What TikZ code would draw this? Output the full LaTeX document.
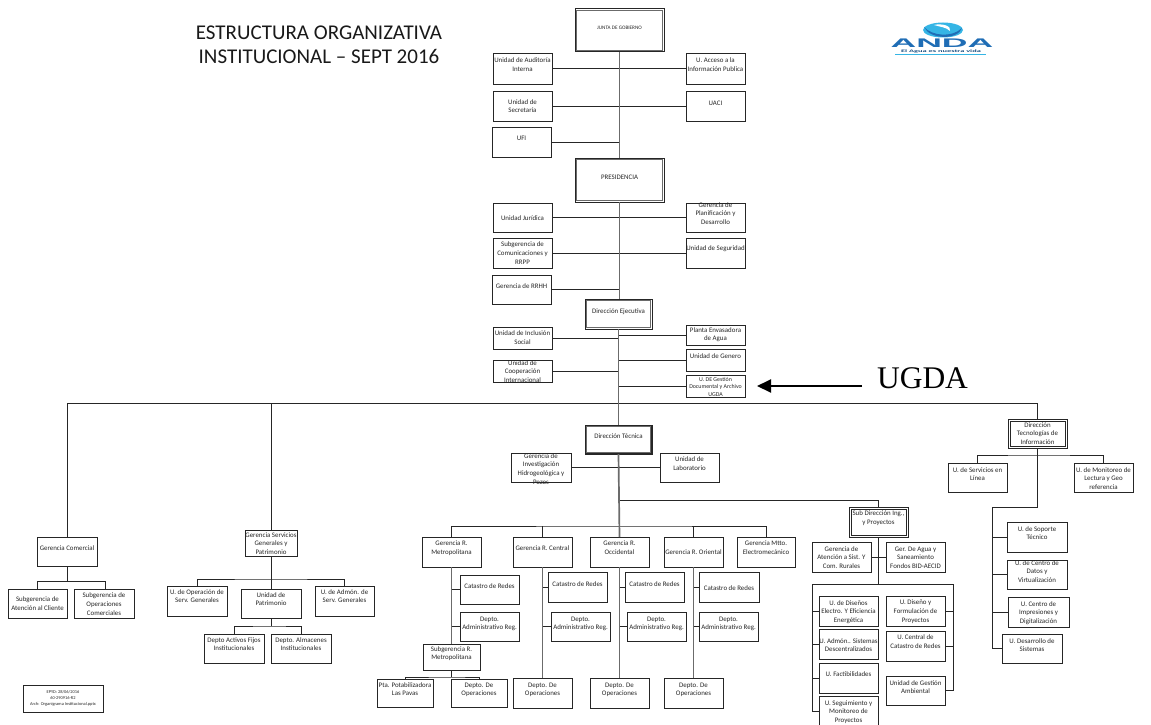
\documentclass[tikz,border=0pt]{standalone}
\usepackage{fontspec}
\setmainfont{Carlito}
\newfontfamily\serifface{Liberation Serif}
\newfontfamily\logoface{Liberation Sans}
\usetikzlibrary{arrows.meta}
\definecolor{txtc}{gray}{0.15}
\definecolor{linec}{gray}{0.15}
\definecolor{trunkc}{gray}{0.42}
\definecolor{logoa}{HTML}{1F6DB5}
\definecolor{logob}{HTML}{35B5E5}
\tikzset{
  bx/.style={draw=linec,line width=1pt,fill=white,inner sep=0pt,outer sep=0pt,text=txtc},
  conn/.style={draw=linec,line width=1pt},
  trunk/.style={draw=trunkc,line width=1.7pt},
  subtrunk/.style={draw=trunkc,line width=1.3pt},
  innerframe/.style={draw=trunkc,line width=1.2pt},
  innerdark/.style={draw=linec,line width=0.8pt},
}
% \bx{name}{x1}{y1}{x2}{y2}{y of first text line}{text}
\newcommand{\boxtext}[7]{%
  \parbox[c][\dimexpr #5pt-#3pt\relax][t]{\dimexpr #4pt-#2pt\relax}{%
    \centering\leftskip=-10pt plus 1fil\rightskip=-10pt plus 1fil
    \fontsize{6.9}{8.6}\selectfont
    \vspace*{\dimexpr #6pt-#3pt-3.7pt\relax}\strut #7\par}}
\newcommand{\bx}[7]{%
  \node[bx] (#1) at ({(#2+#4)/2},{(#3+#5)/2}) {\boxtext{#1}{#2}{#3}{#4}{#5}{#6}{#7}};}
\begin{document}
\begin{tikzpicture}[x=1pt,y=-1pt]
\useasboundingbox (0,0) rectangle (1151,725);
% title
\node[text=black!90,align=center,font=\fontsize{21}{24}\selectfont] (title) at (319,44.7) {ESTRUCTURA ORGANIZATIVA\\INSTITUCIONAL – SEPT 2016};
% logo
\fill[logob] (943,30) ellipse (20 and 7.5);
\fill[logoa] (924,27) .. controls (932,36) and (952,38) .. (962,28) .. controls (958,40) and (930,40) .. (924,27);
\fill[white] (934,25) .. controls (942,23) and (952,26) .. (950,31) .. controls (946,27) and (940,27) .. (934,25);
\node[text=logoa,inner sep=0pt,font=\logoface\bfseries\fontsize{12.5}{12.5}\selectfont,xscale=2.85,transform shape] (anda) at (942,43.5) {ANDA};
\node[text=logoa!70!black,inner sep=0pt,font=\fontsize{3.8}{4}\selectfont\bfseries,xscale=2.2,transform shape] (lema) at (941,51.6) {El Agua es nuestra vida};
\draw[logob,line width=0.6pt] (895,54) -- (986,54);
% governance column
\bx{junta}{575}{9}{664}{52}{27}{\fontsize{5.2}{6}\selectfont JUNTA DE GOBIERNO}
\bx{aud}{493}{54}{552}{84}{60.5}{Unidad de Auditoría\\Interna}
\bx{acc}{686}{54}{745}{84}{60.5}{U. Acceso a la\\Información Publica}
\bx{sec}{493}{91}{552}{121}{102}{Unidad de\\Secretaría}
\bx{uaci}{686}{91}{745}{121}{103}{UACI}
\bx{ufi}{492}{127}{551}{157}{138}{UFI}
\bx{pres}{575}{158}{664}{202}{177}{PRESIDENCIA}
\bx{jur}{493}{203}{552}{232}{218}{Unidad Jurídica}
\bx{plan}{686}{203}{745}{232}{205}{Gerencia de\\Planificación y\\Desarrollo}
\bx{com}{493}{238}{552}{268}{244.5}{Subgerencia de\\Comunicaciones y\\RRPP}
\bx{seg}{686}{238}{745}{268}{248.5}{Unidad de Seguridad}
\bx{rrhh}{492}{275}{551}{304}{286}{Gerencia de RRHH}
\bx{dej}{585}{299}{652}{329}{311}{Dirección Ejecutiva}
\bx{inc}{493}{327}{552}{349}{333.5}{Unidad de Inclusión\\Social}
\bx{pla}{686}{325}{745}{345}{330}{Planta Envasadora\\de Agua}
\bx{gen}{686}{349}{745}{371}{356}{Unidad de Genero}
\bx{coo}{493}{360}{552}{382}{363}{Unidad de\\Cooperación\\Internacional}
\bx{ugd}{686}{375}{745}{397}{379}{\fontsize{5.9}{7.5}\selectfont U. DE Gestión\\Documental y Archivo\\UGDA}
% arrow and its label
\node[inner sep=0pt,text=black,font=\serifface\fontsize{31.5}{34}\selectfont] (ugdal) at (922.5,378.5) {UGDA};
\coordinate (arrs) at (862,386);
\coordinate (arre) at (757,386);
\draw[line width=2pt,-{Triangle[length=14pt,width=13pt]}] (arrs) -- (arre);
% technical column
\bx{dte}{585}{425}{652}{454}{436}{Dirección Técnica}
\bx{inv}{511}{453}{571}{482}{456}{Gerencia de\\Investigación\\Hidrogeológica y\\Pozos}
\bx{lab}{660}{453}{719}{482}{459.5}{Unidad de\\Laboratorio}
\bx{rme}{422}{537}{481}{567}{543.5}{Gerencia R.\\Metropolitana}
\bx{rce}{513}{537}{572}{567}{548}{Gerencia R. Central}
\bx{roc}{590}{537}{649}{567}{543.5}{Gerencia R.\\Occidental}
\bx{ror}{664}{537}{723}{567}{552}{Gerencia R. Oriental}
\bx{mtt}{737}{537}{795}{567}{543.5}{Gerencia Mtto.\\Electromecánico}
\bx{cme}{460}{575}{519}{604}{586}{Catastro de Redes}
\bx{ame}{460}{612}{519}{641}{619}{Depto.\\Administrativo Reg.}
\bx{sme}{423}{644}{480}{670}{649}{Subgerencia R.\\Metropolitana}
\bx{pta}{377}{679}{433}{707}{685}{Pta. Potabilizadora\\Las Pavas}
\bx{ome}{451}{679}{507}{707}{685}{Depto. De\\Operaciones}
\bx{cce}{548}{572}{607}{602}{584}{Catastro de Redes}
\bx{ace}{551}{612}{610}{641}{619}{Depto.\\Administrativo Reg.}
\bx{oce}{513}{678}{572}{708}{685}{Depto. De\\Operaciones}
\bx{coc}{625}{572}{684}{602}{584}{Catastro de Redes}
\bx{aoc}{627}{612}{686}{641}{619}{Depto.\\Administrativo Reg.}
\bx{ooc}{590}{678}{649}{708}{685}{Depto. De\\Operaciones}
\bx{cor}{699}{572}{759}{602}{588}{Catastro de Redes}
\bx{aor}{699}{612}{758}{641}{619}{Depto.\\Administrativo Reg.}
\bx{oor}{664}{678}{723}{708}{685}{Depto. De\\Operaciones}
% sub direction
\bx{sdi}{849}{507}{908}{537}{513.5}{Sub Dirección Ing.,\\y Proyectos}
\bx{ate}{812}{542}{871}{572}{549}{Gerencia de\\Atención a Sist. Y\\Com. Rurales}
\bx{agu}{886}{542}{945}{572}{549}{Ger. De Agua y\\Saneamiento\\Fondos BID-AECID}
\bx{dis}{819}{596}{878}{626}{603}{U. de Diseños\\Electro. Y Eficiencia\\Energética}
\bx{adm}{819}{629}{878}{659}{641}{U. Admón.. Sistemas\\Descentralizados}
\bx{fac}{819}{663}{878}{693}{674}{U. Factibilidades}
\bx{sgu}{819}{696}{878}{726}{703}{U. Seguimiento y\\Monitoreo de\\Proyectos}
\bx{dif}{886}{596}{945}{626}{602.5}{U. Diseño y\\Formulación de\\Proyectos}
\bx{cat}{886}{631}{945}{661}{637.5}{U. Central de\\Catastro de Redes}
\bx{ges}{886}{676}{945}{705}{683}{Unidad de Gestión\\Ambiental}
% IT direction
\bx{dti}{1008}{419}{1067}{448}{425}{Dirección\\Tecnologías de\\Información}
\bx{ser}{948}{463}{1007}{492}{470}{U. de Servicios en\\Línea}
\bx{mon}{1074}{463}{1133}{492}{470}{U. de Monitoreo de\\Lectura y Geo\\referencia}
\bx{sop}{1007}{522}{1067}{552}{529}{U. de Soporte\\Técnico}
\bx{dat}{1007}{560}{1067}{589}{563}{U. de Centro de\\Datos y\\Virtualización}
\bx{imp}{1008}{597}{1069}{627}{604}{U. Centro de\\Impresiones y\\Digitalización}
\bx{des}{1002}{634}{1062}{663}{641}{U. Desarrollo de\\Sistemas}
% commercial
\bx{gco}{37}{537}{97}{566}{548}{Gerencia Comercial}
\bx{sat}{8}{589}{67}{618}{599.5}{Subgerencia de\\Atención al Cliente}
\bx{sop2}{74}{589}{134}{618}{595.5}{Subgerencia de\\Operaciones\\Comerciales}
% general services
\bx{gsg}{245}{530}{297}{556}{535}{Gerencia Servicios\\Generales y\\Patrimonio}
\bx{uop}{167}{586}{227}{616}{592}{U. de Operación de\\Serv. Generales}
\bx{upa}{241}{589}{301}{618}{595}{Unidad de\\Patrimonio}
\bx{uad}{315}{586}{374}{616}{592}{U. de Admón. de\\Serv. Generales}
\bx{act}{204}{634}{264}{663}{640}{Depto Activos Fijos\\Institucionales}
\bx{alm}{271}{634}{331}{663}{640}{Depto. Almacenes\\Institucionales}
% stamp
\node[draw=linec,line width=1pt,minimum width=80pt,minimum height=27pt,inner sep=0pt,align=center,text=txtc,font=\fontsize{4.4}{6}\selectfont] (stamp) at (63,698.5) {EPYD: 28/06/2016\\60-290916-R2\\Arch: Organigrama Institucional.pptx};
% double frames
\draw[innerframe] (576.5,10.5) rectangle (662.5,50.5);
\draw[innerframe] (576.5,159.5) rectangle (662.5,200.5);
\draw[innerframe] (586.5,300.5) rectangle (650.5,327.5);
\draw[innerframe] (586.5,426.5) rectangle (650.5,452.5);
\draw[linec,line width=1.2pt] (585,454) -- (652,454) -- (652,425);
\draw[innerdark] (851,509) rectangle (906,535);
\draw[innerdark] (1010,421) rectangle (1065,446);
% junction coordinates
\coordinate (mainbus) at (618.5,403.5);
\coordinate (tbranch) at (619,500);
\coordinate (tbus) at (619,526);
\coordinate (mebus) at (451.5,677);
\coordinate (sdibus) at (878.5,584);
\coordinate (rectl) at (812,584);
\coordinate (rectr) at (953,584);
\coordinate (comb) at (67,581);
\coordinate (gsb) at (271,579);
\coordinate (patb) at (271,626);
\coordinate (dtib) at (1037.5,455);
\coordinate (dtic) at (1037.5,507);
\coordinate (dtid) at (992,507);
% horizontal links on the trunk
\draw[conn] (aud.east) -- (acc.west);
\draw[conn] (sec.east) -- (uaci.west);
\draw[conn] (ufi.east) -- (ufi.east -| junta.south);
\draw[conn] (jur.east) -- (plan.west);
\draw[conn] (com.east) -- (seg.west |- com.east);
\draw[conn] (rrhh.east) -- (rrhh.east -| pres.south);
\draw[conn] (inc.east) -- (inc.east -| mainbus);
\draw[conn] (coo.east) -- (coo.east -| mainbus);
\draw[conn] (pla.west) -- (pla.west -| mainbus);
\draw[conn] (gen.west) -- (gen.west -| mainbus);
\draw[conn] (ugd.west) -- (ugd.west -| mainbus);
\draw[conn] (inv.east) -- (lab.west);
% main bus
\draw[conn] (gco.north) |- (mainbus);
\draw[conn] (gsg.north) |- (mainbus);
\draw[conn] (mainbus) -| (dti.north);
% regional bus
\draw[conn] (tbranch) -| (sdi.north);
\draw[conn] (rme.north) |- (tbus) -| (mtt.north);
\draw[conn] (rce.north) -- (rce.north |- tbus);
\draw[conn] (ror.north) -- (ror.north |- tbus);
% trunk
\draw[trunk] (junta.south) -- (pres.north);
\draw[trunk] (pres.south) -- (pres.south |- dej.north);
\draw[trunk] (dej.south) -- (dte.north);
\draw[trunk] (dte.south) -- (roc.north);
% regional columns
\draw[conn] (cme.west) -- (cme.west -| rme.south);
\draw[conn] (ame.west) -- (ame.west -| rme.south);
\draw[subtrunk] (rme.south) -- (sme.north);
\draw[conn] (sme.south) -- (mebus);
\draw[conn] (pta.north) |- (mebus) -| (ome.north);
\draw[conn] (cce.west) -- (cce.west -| rce.south);
\draw[conn] (ace.west) -- (ace.west -| rce.south);
\draw[subtrunk] (rce.south) -- (oce.north);
\draw[conn] (coc.west) -- (coc.west -| roc.south);
\draw[conn] (aoc.west) -- (aoc.west -| roc.south);
\draw[subtrunk] (roc.south) -- (ooc.north);
\draw[conn] (cor.west) -- (cor.west -| ror.south);
\draw[conn] (aor.west) -- (aor.west -| ror.south);
\draw[subtrunk] (ror.south) -- (oor.north);
% sub direction links
\draw[conn] (sdi.south) -- (sdibus);
\draw[conn] (ate.east) -- (agu.west);
\draw[conn] (sgu.west) -| (rectl) -- (rectr) |- (ges.east);
\draw[conn] (dis.west) -- (dis.west -| rectl);
\draw[conn] (adm.west) -- (adm.west -| rectl);
\draw[conn] (fac.west) -- (fac.west -| rectl);
\draw[conn] (dif.east) -- (dif.east -| rectr);
\draw[conn] (cat.east) -- (cat.east -| rectr);
% IT links
\draw[conn] (dti.south) -- (dtic) -- (dtid) |- (des.west);
\draw[conn] (ser.north) |- (dtib) -| (mon.north);
\draw[conn] (sop.west) -- (sop.west -| dtid);
\draw[conn] (dat.west) -- (dat.west -| dtid);
\draw[conn] (imp.west) -- (imp.west -| dtid);
% commercial links
\draw[conn] (gco.south) -- (comb);
\draw[conn] (gco.west |- sat.north) |- (comb);
\draw[conn] (comb) -| (105,589);
% general service links
\draw[conn] (gsg.south) -- (upa.north);
\draw[conn] (uop.north) |- (gsb) -| (uad.north);
\draw[conn] (upa.south) -- (patb);
\draw[conn] (act.north) |- (patb) -| (alm.north);
\end{tikzpicture}
\end{document}
